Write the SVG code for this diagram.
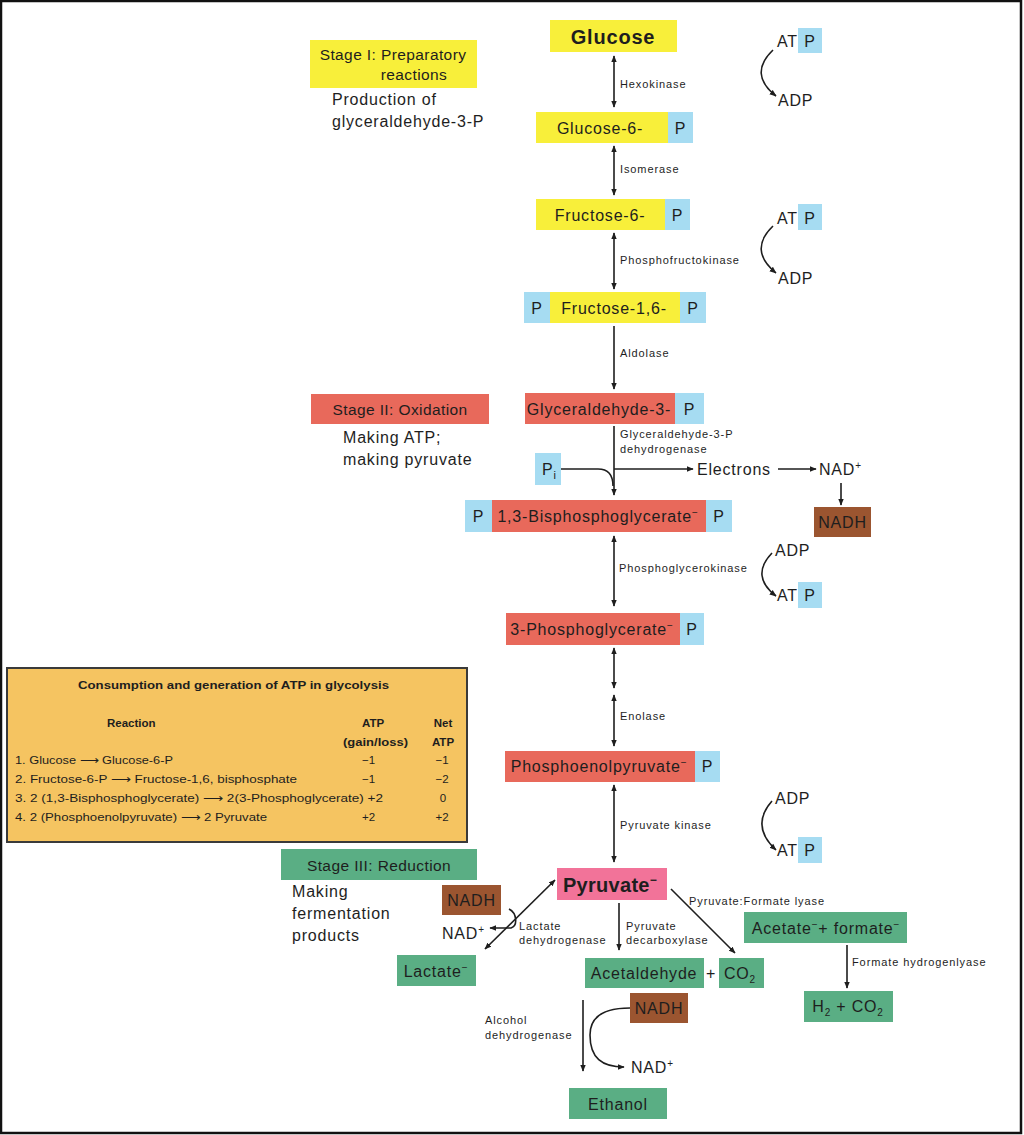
<svg xmlns="http://www.w3.org/2000/svg" width="1024" height="1135" viewBox="0 0 1024 1135">
<style>
text{font-family:"Liberation Sans",Arial,sans-serif;fill:#1e1e1e}
.m{font-size:16px;letter-spacing:0.8px}
.st{font-size:15.5px;letter-spacing:0.4px}
.c{text-anchor:middle}
.b{font-weight:bold}
.e{font-size:11px;letter-spacing:0.9px}
.t{font-size:11.5px}
.tb{font-size:11.5px;font-weight:bold}
.y{fill:#f8ef3a}
.bl{fill:#a6dcf2}
.s{fill:#e8695b}
.br{fill:#9b5530}
.g{fill:#5aae84}
.pk{fill:#f27399}
.ln{fill:none;stroke:#1e1e1e;stroke-width:1.6}
</style>
<defs>
<marker id="ah" viewBox="0 0 10 10" refX="9" refY="5" markerWidth="7" markerHeight="7" orient="auto-start-reverse" markerUnits="userSpaceOnUse">
<path d="M0,1 L10,5 L0,9 Z" fill="#1e1e1e"/>
</marker>
</defs>
<rect x="0" y="0" width="1024" height="1135" fill="#fff"/>
<rect x="1" y="1" width="1020" height="1132" fill="none" stroke="#111" stroke-width="2.5"/>

<g id="stage1">
<rect class="y" x="310" y="40" width="167" height="48"/>
<text class="st c" x="393" y="60">Stage I: Preparatory</text>
<text class="st c" x="414" y="80">reactions</text>
<text class="m" x="332" y="105">Production of</text>
<text class="m" x="332" y="127">glyceraldehyde-3-P</text>
</g>
<g id="glucose">
<rect class="y" x="550" y="20" width="127" height="32"/>
<text class="c b" x="613" y="44" font-size="20" letter-spacing="0.8">Glucose</text>
</g>
<g id="g6p">
<rect class="y" x="536" y="112" width="132" height="31"/>
<text class="m c" x="600" y="134">Glucose-6-</text>
<rect class="bl" x="668" y="112" width="25" height="31"/>
<text class="m c" x="680.5" y="134">P</text>
</g>
<g id="f6p">
<rect class="y" x="536" y="199" width="129" height="31"/>
<text class="m c" x="600" y="221">Fructose-6-</text>
<rect class="bl" x="665" y="199" width="25" height="31"/>
<text class="m c" x="677.5" y="221">P</text>
</g>
<g id="f16bp">
<rect class="bl" x="524" y="292" width="26" height="31"/>
<text class="m c" x="537" y="314">P</text>
<rect class="y" x="550" y="292" width="130" height="31"/>
<text class="m c" x="614" y="314">Fructose-1,6-</text>
<rect class="bl" x="680" y="292" width="26" height="31"/>
<text class="m c" x="693" y="314">P</text>
</g>
<g id="atp1">
<text class="m" x="777" y="47">AT</text>
<rect class="bl" x="798" y="28" width="24" height="25"/>
<text class="m c" x="810" y="47">P</text>
<text class="m" x="778" y="106">ADP</text>
</g>
<g id="atp2">
<text class="m" x="777" y="224">AT</text>
<rect class="bl" x="798" y="204" width="24" height="26"/>
<text class="m c" x="810" y="224">P</text>
<text class="m" x="778" y="284">ADP</text>
</g>

<g id="stage2">
<rect class="s" x="311" y="394" width="178" height="30"/>
<text class="st c" x="400" y="415">Stage II: Oxidation</text>
<text class="m" x="343" y="443">Making ATP;</text>
<text class="m" x="343" y="465">making pyruvate</text>
</g>
<g id="g3p">
<rect class="s" x="525" y="393" width="150" height="31"/>
<text class="m c" x="599" y="415">Glyceraldehyde-3-</text>
<rect class="bl" x="675" y="393" width="29" height="31"/>
<text class="m c" x="689.5" y="415">P</text>
</g>
<g id="pi">
<rect class="bl" x="535" y="453" width="26" height="32"/>
<text class="m" x="542" y="475">P<tspan font-size="11" dy="4">i</tspan></text>
</g>
<g id="electrons">
<text class="m" x="697" y="475">Electrons</text>
<text class="m" x="819" y="475">NAD<tspan font-size="10" dy="-6">+</tspan></text>
</g>
<g id="nadh1">
<rect class="br" x="814" y="507" width="57" height="30"/>
<text class="m c" x="842.5" y="528">NADH</text>
</g>
<g id="bpg">
<rect class="bl" x="465" y="500" width="27" height="32"/>
<text class="m c" x="478.5" y="522">P</text>
<rect class="s" x="492" y="500" width="214" height="32"/>
<text class="m c" x="598" y="522">1,3-Bisphosphoglycerate<tspan font-size="10" dy="-6">−</tspan></text>
<rect class="bl" x="706" y="500" width="26" height="32"/>
<text class="m c" x="719" y="522">P</text>
</g>
<g id="atp3">
<text class="m" x="775" y="556">ADP</text>
<text class="m" x="777" y="601">AT</text>
<rect class="bl" x="798" y="582" width="24" height="26"/>
<text class="m c" x="810" y="601">P</text>
</g>
<g id="pg3">
<rect class="s" x="506" y="613" width="174" height="32"/>
<text class="m c" x="592" y="635">3-Phosphoglycerate<tspan font-size="10" dy="-6">−</tspan></text>
<rect class="bl" x="680" y="613" width="24" height="32"/>
<text class="m c" x="692" y="635">P</text>
</g>
<g id="pep">
<rect class="s" x="505" y="751" width="190" height="31"/>
<text class="m c" x="599" y="772">Phosphoenolpyruvate<tspan font-size="10" dy="-6">−</tspan></text>
<rect class="bl" x="695" y="751" width="25" height="31"/>
<text class="m c" x="707.5" y="772">P</text>
</g>
<g id="atp4">
<text class="m" x="775" y="804">ADP</text>
<text class="m" x="777" y="856">AT</text>
<rect class="bl" x="798" y="837" width="24" height="26"/>
<text class="m c" x="810" y="856">P</text>
</g>

<g id="table">
<rect x="7" y="668" width="460" height="174" fill="#f5c461" stroke="#3a3a3a" stroke-width="2"/>
<text class="tb" x="78" y="689" textLength="311" lengthAdjust="spacingAndGlyphs">Consumption and generation of ATP in glycolysis</text>
<text class="tb" x="107" y="727">Reaction</text>
<text class="tb" x="362" y="727">ATP</text>
<text class="tb" x="343" y="746" textLength="65" lengthAdjust="spacingAndGlyphs">(gain/loss)</text>
<text class="tb c" x="443" y="727">Net</text>
<text class="tb c" x="443" y="746">ATP</text>
<text class="t" x="15" y="764" textLength="158" lengthAdjust="spacingAndGlyphs">1. Glucose ⟶ Glucose-6-P</text>
<text class="t" x="15" y="783" textLength="282" lengthAdjust="spacingAndGlyphs">2. Fructose-6-P ⟶ Fructose-1,6, bisphosphate</text>
<text class="t" x="15" y="802" textLength="368" lengthAdjust="spacingAndGlyphs">3. 2 (1,3-Bisphosphoglycerate) ⟶ 2(3-Phosphoglycerate) +2</text>
<text class="t" x="15" y="821" textLength="252" lengthAdjust="spacingAndGlyphs">4. 2 (Phosphoenolpyruvate) ⟶ 2 Pyruvate</text>
<text class="t" x="362" y="764">−1</text>
<text class="t" x="362" y="783">−1</text>
<text class="t" x="362" y="821">+2</text>
<text class="t c" x="442" y="764">−1</text>
<text class="t c" x="442" y="783">−2</text>
<text class="t c" x="443" y="802">0</text>
<text class="t c" x="442" y="821">+2</text>
</g>

<g id="stage3">
<rect class="g" x="281" y="849" width="196" height="31"/>
<text class="st c" x="379" y="871">Stage III: Reduction</text>
<text class="m" x="292" y="897">Making</text>
<text class="m" x="292" y="919">fermentation</text>
<text class="m" x="292" y="941">products</text>
</g>
<g id="pyruvate">
<rect class="pk" x="557" y="868" width="110" height="32"/>
<text class="c b" x="610" y="892" font-size="20" letter-spacing="0.3">Pyruvate<tspan font-size="12" dy="-8">−</tspan></text>
</g>
<g id="nadh2">
<rect class="br" x="442" y="885" width="59" height="30"/>
<text class="m c" x="471.5" y="906">NADH</text>
<text class="m" x="442" y="939">NAD<tspan font-size="10" dy="-6">+</tspan></text>
</g>
<g id="lactate">
<rect class="g" x="397" y="955" width="79" height="31"/>
<text class="m c" x="436" y="977">Lactate<tspan font-size="10" dy="-6">−</tspan></text>
</g>
<g id="acetaldehyde">
<rect class="g" x="585" y="958" width="119" height="30"/>
<text class="m c" x="644" y="979" letter-spacing="1.2">Acetaldehyde</text>
<text class="m c" x="711" y="979">+</text>
<rect class="g" x="719" y="958" width="45" height="30"/>
<text class="m c" x="740" y="979">CO<tspan font-size="10" dy="4">2</tspan></text>
</g>
<g id="acetate">
<rect class="g" x="744" y="912" width="163" height="31"/>
<text class="m c" x="826" y="934">Acetate<tspan font-size="10" dy="-6">−</tspan><tspan dy="6">+ formate</tspan><tspan font-size="10" dy="-6">−</tspan></text>
</g>
<g id="h2co2">
<rect class="g" x="804" y="991" width="89" height="31"/>
<text class="m c" x="848" y="1012">H<tspan font-size="10" dy="4">2</tspan><tspan dy="-4"> + CO</tspan><tspan font-size="10" dy="4">2</tspan></text>
</g>
<g id="nadh3">
<rect class="br" x="630" y="993" width="58" height="30"/>
<text class="m c" x="659" y="1014">NADH</text>
<text class="m" x="631" y="1073">NAD<tspan font-size="10" dy="-6">+</tspan></text>
</g>
<g id="ethanol">
<rect class="g" x="569" y="1088" width="98" height="31"/>
<text class="m c" x="618" y="1110">Ethanol</text>
</g>

<g id="enzyme-labels">
<text class="e" x="620" y="88">Hexokinase</text>
<text class="e" x="620" y="173">Isomerase</text>
<text class="e" x="620" y="264">Phosphofructokinase</text>
<text class="e" x="620" y="357">Aldolase</text>
<text class="e" x="620" y="438">Glyceraldehyde-3-P</text>
<text class="e" x="620" y="453">dehydrogenase</text>
<text class="e" x="619" y="572">Phosphoglycerokinase</text>
<text class="e" x="620" y="720">Enolase</text>
<text class="e" x="620" y="829">Pyruvate kinase</text>
<text class="e" x="519" y="930">Lactate</text>
<text class="e" x="519" y="944">dehydrogenase</text>
<text class="e" x="626" y="930">Pyruvate</text>
<text class="e" x="626" y="944">decarboxylase</text>
<text class="e" x="689" y="905">Pyruvate:Formate lyase</text>
<text class="e" x="852" y="966">Formate hydrogenlyase</text>
<text class="e" x="485" y="1024">Alcohol</text>
<text class="e" x="485" y="1039">dehydrogenase</text>
</g>

<g id="connectors">
<path class="ln" d="M614,56 L614,107" marker-start="url(#ah)" marker-end="url(#ah)"/>
<path class="ln" d="M614,146 L614,195" marker-start="url(#ah)" marker-end="url(#ah)"/>
<path class="ln" d="M614,233 L614,289" marker-start="url(#ah)" marker-end="url(#ah)"/>
<path class="ln" d="M614,326 L614,389" marker-end="url(#ah)"/>
<path class="ln" d="M614,426 L614,495" marker-end="url(#ah)"/>
<path class="ln" d="M561,469 L598,469 Q613,469 613,486"/>
<path class="ln" d="M614,469 L693,469" marker-end="url(#ah)"/>
<path class="ln" d="M778,469 L816,469" marker-end="url(#ah)"/>
<path class="ln" d="M841,483 L841,505" marker-end="url(#ah)"/>
<path class="ln" d="M614,536 L614,606" marker-start="url(#ah)" marker-end="url(#ah)"/>
<path class="ln" d="M614,648 L614,688" marker-start="url(#ah)" marker-end="url(#ah)"/>
<path class="ln" d="M614,695 L614,746" marker-start="url(#ah)" marker-end="url(#ah)"/>
<path class="ln" d="M614,785 L614,862" marker-start="url(#ah)" marker-end="url(#ah)"/>
<path class="ln" d="M773,50 Q748,74 776,96" marker-end="url(#ah)"/>
<path class="ln" d="M773,226 Q748,250 776,273" marker-end="url(#ah)"/>
<path class="ln" d="M772,553 Q750,576 776,596" marker-end="url(#ah)"/>
<path class="ln" d="M772,801 Q750,826 776,850" marker-end="url(#ah)"/>
<path class="ln" d="M485,949 L555,880" marker-start="url(#ah)" marker-end="url(#ah)"/>
<path class="ln" d="M509,909 C517,913 518,926 511,928 L490,928" marker-end="url(#ah)"/>
<path class="ln" d="M619,903 L619,950" marker-end="url(#ah)"/>
<path class="ln" d="M671,889 L735,953" marker-end="url(#ah)"/>
<path class="ln" d="M847,945 L847,988" marker-end="url(#ah)"/>
<path class="ln" d="M583,1000 L583,1071" marker-end="url(#ah)"/>
<path class="ln" d="M630,1008 C602,1008 590,1018 590,1035 C590,1058 602,1067 624,1067" marker-end="url(#ah)"/>
</g>
</svg>
